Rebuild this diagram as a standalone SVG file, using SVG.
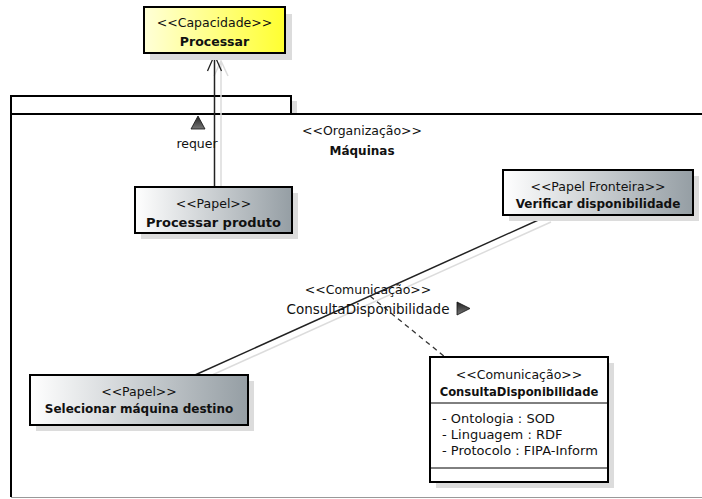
<svg xmlns="http://www.w3.org/2000/svg" width="702" height="499" viewBox="0 0 702 499">
<style>
text{font-family:"DejaVu Sans","Liberation Sans",sans-serif;font-size:12.5px;fill:#111;text-anchor:middle}
.b{font-weight:bold;font-size:12px}
.box{stroke:#000;stroke-width:2}
.sh{fill:#dcdcdc}
.shl{stroke:#dcdcdc;stroke-width:1.5;fill:none}
.attr{text-anchor:start;font-size:13px}
</style>
<defs>
<linearGradient id="gy" x1="0" y1="0" x2="1" y2="0"><stop offset="0" stop-color="#ffffd8"/><stop offset="1" stop-color="#ffff30"/></linearGradient>
<linearGradient id="gg" x1="0" y1="0" x2="1" y2="0"><stop offset="0" stop-color="#ffffff"/><stop offset="1" stop-color="#959ea4"/></linearGradient>
<linearGradient id="gt" x1="0" y1="0" x2="0" y2="1"><stop offset="0" stop-color="#222"/><stop offset="1" stop-color="#777"/></linearGradient>
</defs>

<g id="package-maquinas">
<rect x="292" y="101" width="5" height="13" class="sh"/>
<rect x="11" y="96" width="280" height="18" fill="#fff" stroke="#000" stroke-width="2"/>
<path d="M11 114 H702 M11 114 V497" stroke="#000" stroke-width="2" fill="none"/>
<path d="M11 497.5 H702" stroke="#999" stroke-width="1"/>
<text x="362" y="135">&lt;&lt;Organização&gt;&gt;</text>
<text x="362" y="155" class="b">Máquinas</text>
</g>

<g id="connectors">
<path d="M221 61 V187 M214 76 L221 61 L228 76" class="shl"/>
<path d="M201 380 L551 222" class="shl"/>
<path d="M214.5 55 V187" stroke="#222" stroke-width="1.5" fill="none"/>
<path d="M207.5 71 L214.5 55 L221.5 71" stroke="#222" stroke-width="1.3" fill="none"/>
<path d="M195 375 L545 217" stroke="#222" stroke-width="1.5" fill="none"/>
<path d="M370 296 L445 357" stroke="#333" stroke-width="1.3" stroke-dasharray="5 4" fill="none"/>
<polygon points="198,116 191,129 205,129" fill="url(#gt)" stroke="#111" stroke-width="0.8"/>
<text x="197" y="148">requer</text>
<text x="368" y="294">&lt;&lt;Comunicação&gt;&gt;</text>
<text x="368" y="314" style="font-size:13.5px">ConsultaDisponibilidade</text>
<polygon points="457,302 457,315 470,308.5" fill="url(#gt)" stroke="#111" stroke-width="0.8"/>
</g>

<g id="capacidade-processar">
<rect x="150" y="14" width="142" height="46" class="sh"/>
<rect x="144" y="7" width="141" height="46" fill="url(#gy)" class="box"/>
<text x="214.5" y="27">&lt;&lt;Capacidade&gt;&gt;</text>
<text x="214.5" y="46" class="b" style="font-size:12.5px">Processar</text>
</g>

<g id="papel-processar-produto">
<rect x="141" y="193" width="157" height="46" class="sh"/>
<rect x="135" y="187" width="157" height="46" fill="url(#gg)" class="box"/>
<text x="213.5" y="208">&lt;&lt;Papel&gt;&gt;</text>
<text x="213.5" y="227" class="b" style="font-size:13px">Processar produto</text>
</g>

<g id="papel-fronteira-verificar">
<rect x="509" y="176" width="190" height="45" class="sh"/>
<rect x="503" y="170" width="190" height="45" fill="url(#gg)" class="box"/>
<text x="598" y="191">&lt;&lt;Papel Fronteira&gt;&gt;</text>
<text x="598" y="208" class="b">Verificar disponibilidade</text>
</g>

<g id="papel-selecionar">
<rect x="36" y="381" width="218" height="50" class="sh"/>
<rect x="30" y="375" width="218" height="50" fill="url(#gg)" class="box"/>
<text x="139" y="396">&lt;&lt;Papel&gt;&gt;</text>
<text x="139" y="413" class="b">Selecionar máquina destino</text>
</g>

<g id="comunicacao-consulta">
<rect x="436" y="363" width="178" height="125" class="sh"/>
<rect x="430" y="357" width="178" height="125" fill="#fff" class="box"/>
<path d="M430 403 H608 M430 468 H608" stroke="#000" stroke-width="1"/>
<text x="519" y="379">&lt;&lt;Comunicação&gt;&gt;</text>
<text x="519" y="396" class="b" style="font-size:11.6px">ConsultaDisponibilidade</text>
<text x="442" y="423" class="attr">- Ontologia : SOD</text>
<text x="442" y="439" class="attr">- Linguagem : RDF</text>
<text x="442" y="455" class="attr">- Protocolo : FIPA-Inform</text>
</g>
</svg>
